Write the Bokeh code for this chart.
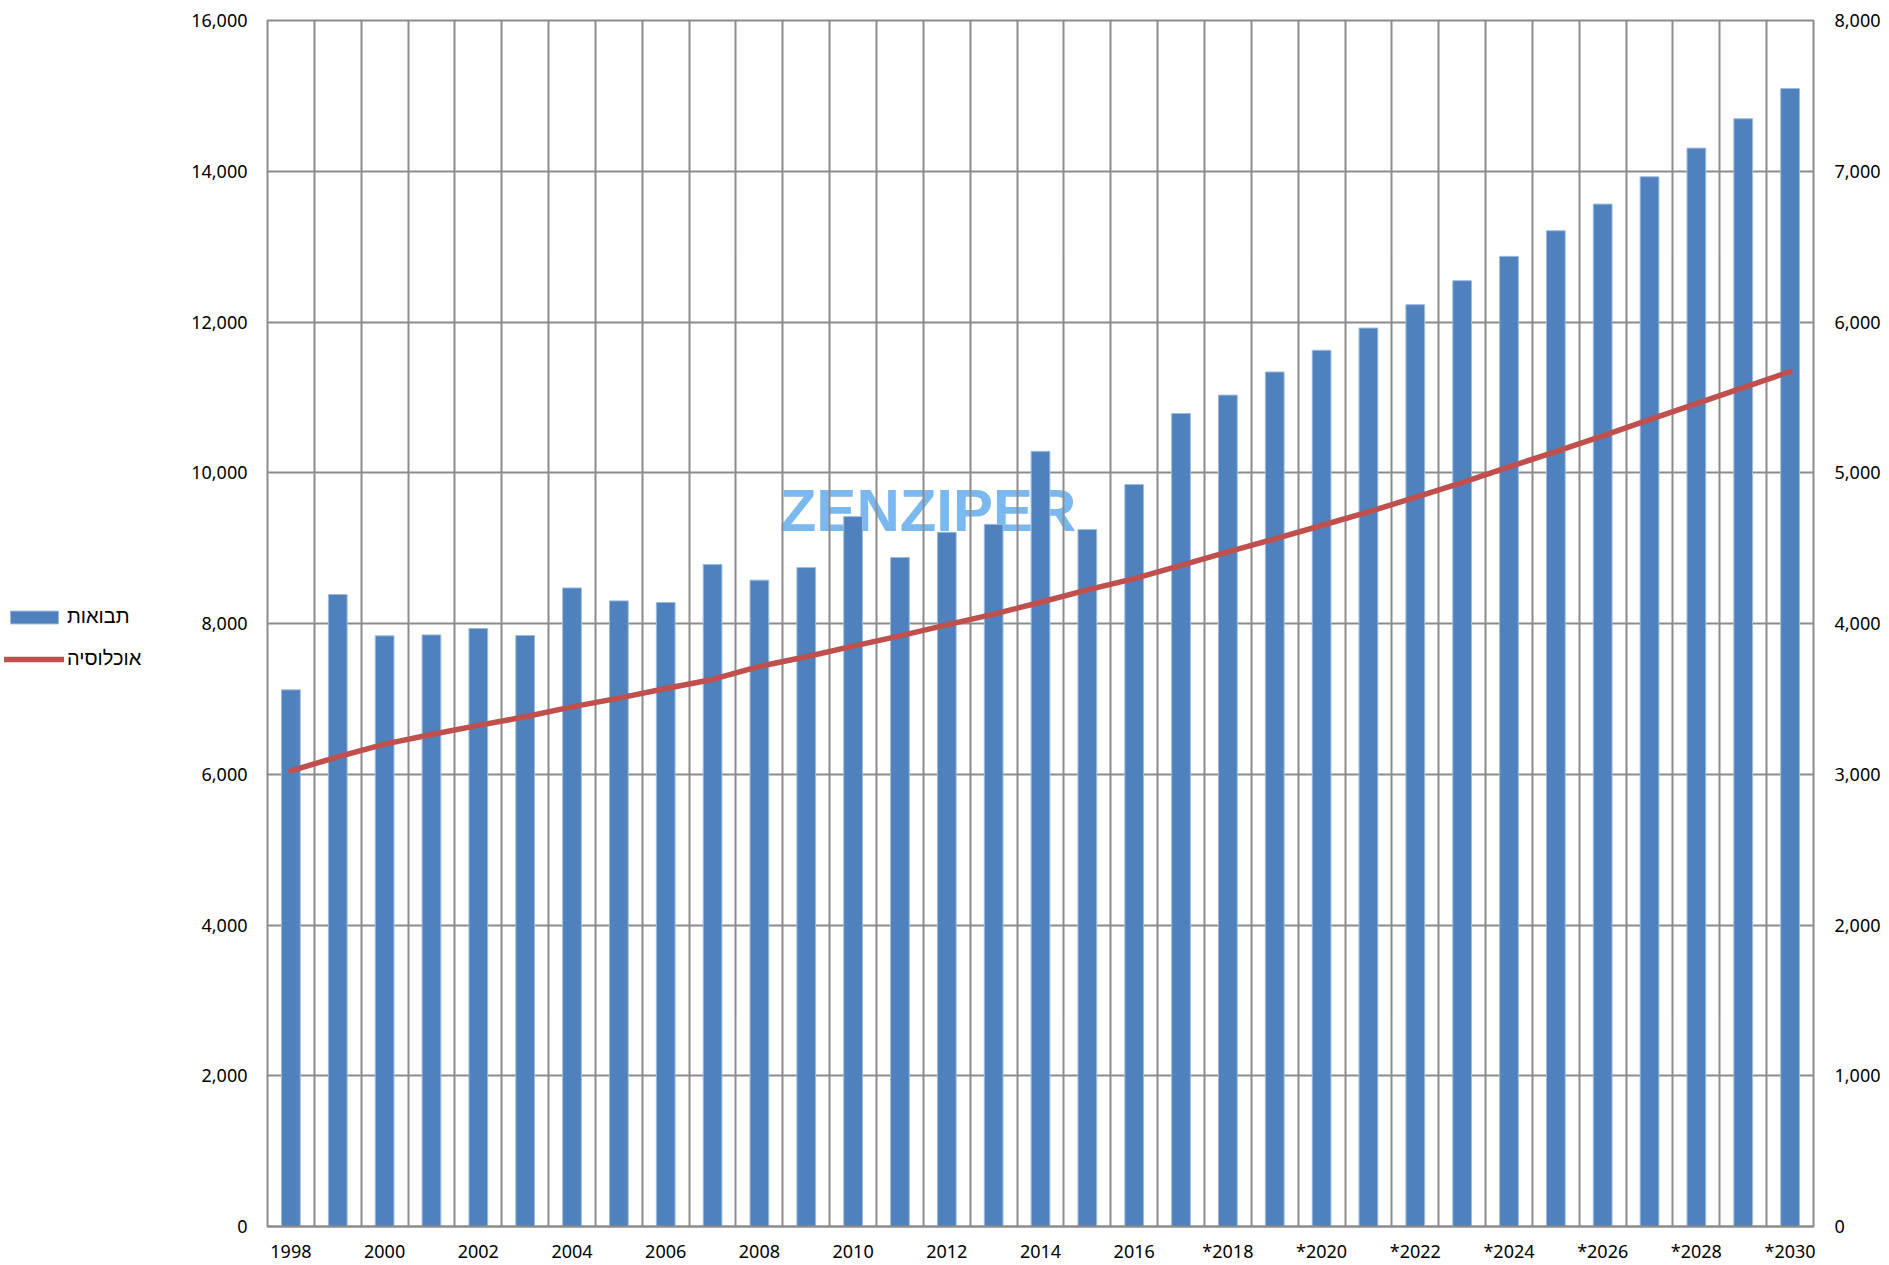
from bokeh.plotting import figure
from bokeh.layouts import row
from bokeh.models import (Range1d, LinearAxis, FixedTicker, NumeralTickFormatter,
                          Legend, LegendItem, Label)
from bokeh.embed import file_html
from bokeh.resources import INLINE

years = [1998, 1999, 2000, 2001, 2002, 2003, 2004, 2005, 2006, 2007, 2008,
         2009, 2010, 2011, 2012, 2013, 2014, 2015, 2016, 2017, 2018, 2019,
         2020, 2021, 2022, 2023, 2024, 2025, 2026, 2027, 2028, 2029, 2030]

# תבואות (left axis)
revenue = [7120, 8385, 7836, 7849, 7934, 7841, 8472, 8300, 8279, 8783, 8575,
           8742, 9418, 8875, 9210, 9316, 10284, 9246, 9843, 10786, 11030,
           11337, 11625, 11920, 12230, 12548, 12871, 13211, 13564, 13927,
           14307, 14697, 15098]

# אוכלוסיה (right axis)
population = [3023, 3115, 3200, 3264, 3324, 3381, 3447, 3505, 3569, 3629, 3715,
              3779, 3850, 3918, 3991, 4062, 4141, 4223, 4298, 4385, 4475,
              4561, 4650, 4741, 4836, 4935, 5039, 5140, 5245, 5353, 5459,
              5565, 5671]

label_years = [1998, 2000, 2002, 2004, 2006, 2008, 2010, 2012, 2014, 2016,
               2018, 2020, 2022, 2024, 2026, 2028, 2030]
label_texts = ["1998", "2000", "2002", "2004", "2006", "2008", "2010", "2012",
               "2014", "2016", "*2018", "*2020", "*2022", "*2024", "*2026",
               "*2028", "*2030"]

left_ticks = [0, 2000, 4000, 6000, 8000, 10000, 12000, 14000, 16000]
right_ticks = [0, 1000, 2000, 3000, 4000, 5000, 6000, 7000, 8000]

series_names = ["תבואות", "אוכלוסיה"]

GRID = "#8c8c8c"
FONT = "Noto Sans"
BAR_COLOR = "#4F81BD"
BAR_EDGE = "#9dbbe0"
LINE_COLOR = "#C0504D"

LEG_W = 180
W, H = 1889, 1265

# ---------------- main chart ----------------
p = figure(width=W - LEG_W, height=H, output_backend="svg", toolbar_location=None,
           x_range=Range1d(1997.5, 2030.5), y_range=Range1d(0, 16000),
           min_border_left=267 - LEG_W, min_border_right=76, min_border_top=20,
           min_border_bottom=38)
p.extra_y_ranges = {"right": Range1d(0, 8000)}

p.outline_line_color = GRID
p.outline_line_width = 2
p.background_fill_color = "white"

# watermark
wm = Label(x=2011.6, y=9500, text="ZENZIPER", text_align="center",
           text_baseline="middle", text_font="Liberation Sans",
           text_font_style="bold", text_font_size="60px", text_color="#5aa6ec",
           text_alpha=0.8, level="image")
p.add_layout(wm)

bars = p.vbar(x=years, top=revenue, width=0.4, bottom=0,
              fill_color=BAR_COLOR, line_color=BAR_EDGE, line_width=1)
line = p.line(x=years, y=population, y_range_name="right",
              line_color=LINE_COLOR, line_width=5.5, line_cap="round",
              line_join="round")

def style_axis(ax, standoff):
    ax.major_tick_line_color = None
    ax.minor_tick_line_color = None
    ax.major_tick_out = 0
    ax.major_tick_in = 0
    ax.minor_tick_out = 0
    ax.minor_tick_in = 0
    ax.major_label_standoff = standoff
    ax.major_label_text_font = FONT
    ax.major_label_text_font_size = "18px"
    ax.major_label_text_color = "black"

xa = p.xaxis[0]
xa.ticker = FixedTicker(ticks=label_years)
xa.major_label_overrides = {y: t for y, t in zip(label_years, label_texts)}
xa.axis_line_color = GRID
xa.axis_line_width = 2
style_axis(xa, 12)

ya = p.yaxis[0]
ya.ticker = FixedTicker(ticks=left_ticks)
ya.formatter = NumeralTickFormatter(format="0,0")
ya.axis_line_color = None
style_axis(ya, 20)

ra = LinearAxis(y_range_name="right", ticker=FixedTicker(ticks=right_ticks),
                formatter=NumeralTickFormatter(format="0,0"))
ra.axis_line_color = None
style_axis(ra, 21)
p.add_layout(ra, "right")

p.xgrid.ticker = FixedTicker(ticks=[y + 0.5 for y in years[:-1]])
p.xgrid.grid_line_color = GRID
p.xgrid.grid_line_width = 2
p.ygrid.ticker = FixedTicker(ticks=left_ticks)
p.ygrid.grid_line_color = GRID
p.ygrid.grid_line_width = 2

# ---------------- legend panel (left) ----------------
q = figure(width=LEG_W, height=H, output_backend="svg", toolbar_location=None,
           x_range=Range1d(0, 1), y_range=Range1d(0, 1),
           x_axis_type=None, y_axis_type=None,
           min_border_left=0, min_border_right=0, min_border_top=0,
           min_border_bottom=0)
q.outline_line_color = None
q.xgrid.visible = False
q.ygrid.visible = False
# proxy glyphs (outside the visible range) that only feed the legend swatches
leg_bar = q.vbar(x=[5], top=[6], bottom=[5], width=0.4,
                 fill_color=BAR_COLOR, line_color=BAR_EDGE)
leg_line = q.line(x=[5, 6], y=[5, 5], line_color=LINE_COLOR, line_width=5.5,
                  line_cap="round")

legend = Legend(items=[LegendItem(label=series_names[0], renderers=[leg_bar]),
                       LegendItem(label=series_names[1], renderers=[leg_line])],
                location=(4, 556), orientation="vertical",
                glyph_width=60, glyph_height=16, label_height=20,
                label_standoff=3, spacing=19, padding=0,
                margin=0, border_line_color=None, background_fill_alpha=0,
                label_text_font="Liberation Sans", label_text_font_size="20px",
                label_text_color="black")
q.add_layout(legend)

layout = row(q, p, spacing=0)

open("out.html", "w").write(file_html(layout, INLINE))
